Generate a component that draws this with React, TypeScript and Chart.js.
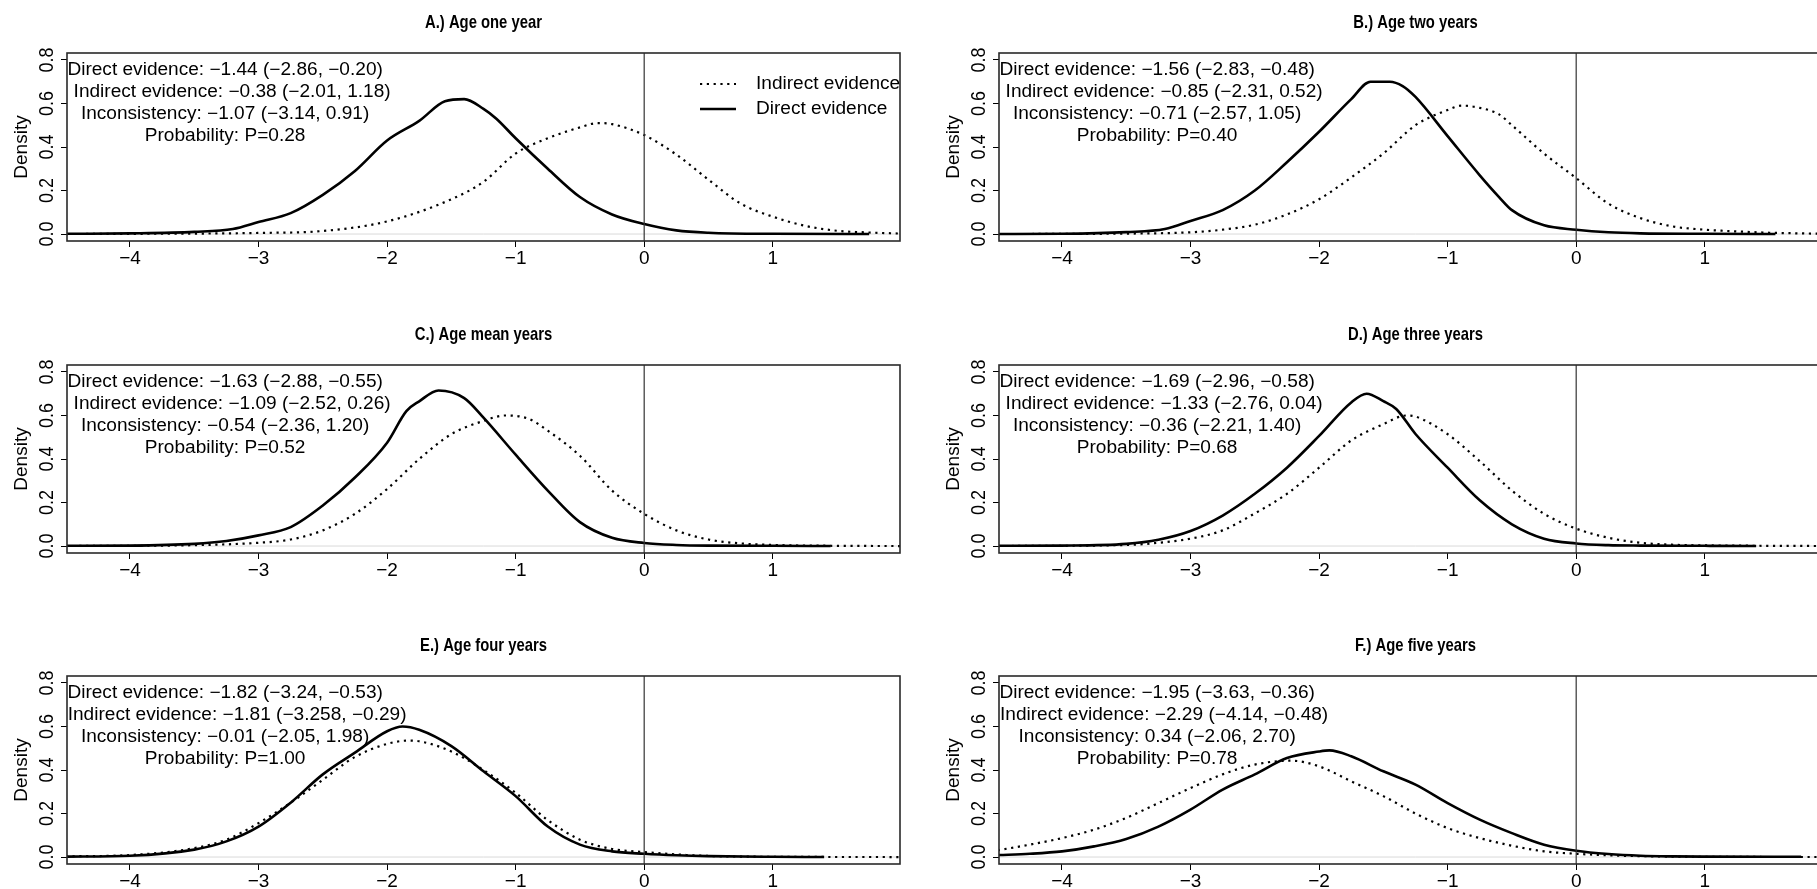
import React, { useEffect, useRef } from "react";
import { Chart, registerables } from "chart.js";

Chart.register(...registerables);

// ---------- axes ----------
const xTickValues = [-4, -3, -2, -1, 0, 1];
const xTickLabels = ["\u22124", "\u22123", "\u22122", "\u22121", "0", "1"];
const yTickValues = [0, 0.2, 0.4, 0.6, 0.8];
const yTickLabels = ["0.0", "0.2", "0.4", "0.6", "0.8"];
const xMin = -4.49;
const xMax = 1.99;
const yMin = -0.032;
const yMax = 0.832;
const yAxisTitle = "Density";
const legendLabels = ["Indirect evidence", "Direct evidence"];
const noteCenterX = -3.26;

// ---------- titles & notes ----------
const panelTitles = [
  "A.) Age one year",
  "B.) Age two years",
  "C.) Age mean years",
  "D.) Age three years",
  "E.) Age four years",
  "F.) Age five years",
];

const notesA = ["Direct evidence: \u22121.44 (\u22122.86, \u22120.20)", "Indirect evidence: \u22120.38 (\u22122.01, 1.18)", "Inconsistency: \u22121.07 (\u22123.14, 0.91)", "Probability: P=0.28"];
const notesB = ["Direct evidence: \u22121.56 (\u22122.83, \u22120.48)", "Indirect evidence: \u22120.85 (\u22122.31, 0.52)", "Inconsistency: \u22120.71 (\u22122.57, 1.05)", "Probability: P=0.40"];
const notesC = ["Direct evidence: \u22121.63 (\u22122.88, \u22120.55)", "Indirect evidence: \u22121.09 (\u22122.52, 0.26)", "Inconsistency: \u22120.54 (\u22122.36, 1.20)", "Probability: P=0.52"];
const notesD = ["Direct evidence: \u22121.69 (\u22122.96, \u22120.58)", "Indirect evidence: \u22121.33 (\u22122.76, 0.04)", "Inconsistency: \u22120.36 (\u22122.21, 1.40)", "Probability: P=0.68"];
const notesE = ["Direct evidence: \u22121.82 (\u22123.24, \u22120.53)", "Indirect evidence: \u22121.81 (\u22123.258, \u22120.29)", "Inconsistency: \u22120.01 (\u22122.05, 1.98)", "Probability: P=1.00"];
const notesF = ["Direct evidence: \u22121.95 (\u22123.63, \u22120.36)", "Indirect evidence: \u22122.29 (\u22124.14, \u22120.48)", "Inconsistency: 0.34 (\u22122.06, 2.70)", "Probability: P=0.78"];

// ---------- density curves ----------
const aDirectX = [-4.5, -4, -3.5, -3.2, -3, -2.75, -2.5, -2.25, -2, -1.75, -1.55, -1.4, -1.25, -1.15, -1, -0.75, -0.5, -0.25, 0, 0.25, 0.5, 1, 1.75];
const aDirectY = [0.001, 0.003, 0.01, 0.023, 0.055, 0.096, 0.18, 0.29, 0.43, 0.52, 0.61, 0.62, 0.575, 0.53, 0.44, 0.3, 0.17, 0.09, 0.046, 0.017, 0.006, 0.001, 0];
const aIndirectX = [-4.5, -4, -3.5, -3, -2.5, -2, -1.5, -1.25, -1, -0.75, -0.5, -0.36, -0.25, 0, 0.25, 0.5, 0.75, 1, 1.25, 1.5, 1.75, 2];
const aIndirectY = [0, 0.001, 0.002, 0.005, 0.014, 0.058, 0.16, 0.24, 0.37, 0.44, 0.49, 0.51, 0.505, 0.455, 0.365, 0.25, 0.14, 0.08, 0.038, 0.015, 0.007, 0.002];

const bDirectX = [-4.5, -4, -3.5, -3.2, -3, -2.75, -2.5, -2.25, -2, -1.75, -1.6, -1.45, -1.35, -1.25, -1, -0.75, -0.6, -0.5, -0.25, 0, 0.25, 0.5, 1, 1.55];
const bDirectY = [0, 0.001, 0.009, 0.023, 0.06, 0.11, 0.2, 0.33, 0.47, 0.62, 0.7, 0.7, 0.68, 0.63, 0.45, 0.27, 0.17, 0.11, 0.04, 0.02, 0.008, 0.003, 0.001, 0];
const bIndirectX = [-4.5, -3.5, -3, -2.75, -2.5, -2.25, -2, -1.75, -1.5, -1.25, -1, -0.89, -0.75, -0.6, -0.5, -0.25, 0, 0.25, 0.5, 0.75, 1, 1.25, 1.5, 1.75, 2];
const bIndirectY = [0, 0.002, 0.008, 0.02, 0.043, 0.09, 0.16, 0.26, 0.37, 0.5, 0.57, 0.59, 0.58, 0.55, 0.5, 0.37, 0.257, 0.14, 0.073, 0.035, 0.02, 0.012, 0.006, 0.003, 0.001];

const cDirectX = [-4.5, -4, -3.5, -3.25, -3, -2.75, -2.5, -2.25, -2, -1.85, -1.75, -1.6, -1.4, -1.25, -1, -0.75, -0.5, -0.25, 0, 0.25, 0.5, 1, 1.45];
const cDirectY = [0.001, 0.002, 0.01, 0.023, 0.049, 0.087, 0.186, 0.315, 0.475, 0.62, 0.665, 0.715, 0.68, 0.59, 0.42, 0.255, 0.11, 0.038, 0.014, 0.005, 0.002, 0.001, 0];
const cIndirectX = [-4.5, -3.5, -3, -2.75, -2.5, -2.25, -2, -1.75, -1.5, -1.25, -1.08, -0.9, -0.75, -0.5, -0.25, 0, 0.25, 0.5, 0.75, 1, 1.5, 2];
const cIndirectY = [0, 0.004, 0.015, 0.03, 0.072, 0.148, 0.262, 0.4, 0.514, 0.575, 0.6, 0.585, 0.53, 0.415, 0.255, 0.148, 0.072, 0.03, 0.012, 0.005, 0.001, 0];

const dDirectX = [-4.5, -4, -3.5, -3.25, -3, -2.75, -2.5, -2.25, -2, -1.75, -1.63, -1.5, -1.4, -1.25, -1, -0.75, -0.5, -0.25, 0, 0.25, 0.5, 1, 1.4];
const dDirectY = [0.001, 0.002, 0.01, 0.029, 0.069, 0.14, 0.24, 0.36, 0.506, 0.66, 0.7, 0.666, 0.63, 0.515, 0.36, 0.21, 0.1, 0.034, 0.012, 0.004, 0.002, 0.001, 0];
const dIndirectX = [-4.5, -3.5, -3.25, -3, -2.75, -2.5, -2.25, -2, -1.75, -1.5, -1.32, -1.25, -1, -0.75, -0.5, -0.25, 0, 0.25, 0.5, 0.75, 1, 1.5, 2];
const dIndirectY = [0, 0.005, 0.015, 0.034, 0.072, 0.15, 0.24, 0.36, 0.485, 0.56, 0.6, 0.595, 0.514, 0.39, 0.255, 0.148, 0.08, 0.038, 0.015, 0.006, 0.003, 0.001, 0];

const eDirectX = [-4.5, -4, -3.5, -3.25, -3, -2.75, -2.5, -2.25, -2, -1.88, -1.75, -1.5, -1.25, -1, -0.75, -0.5, -0.25, 0, 0.25, 0.5, 1, 1.4];
const eDirectY = [0.002, 0.006, 0.034, 0.072, 0.14, 0.25, 0.38, 0.48, 0.578, 0.6, 0.585, 0.51, 0.394, 0.28, 0.14, 0.057, 0.026, 0.015, 0.008, 0.004, 0.001, 0];
const eIndirectX = [-4.5, -4, -3.5, -3.25, -3, -2.75, -2.5, -2.25, -2, -1.84, -1.75, -1.5, -1.25, -1, -0.75, -0.5, -0.25, 0, 0.25, 0.5, 1, 2];
const eIndirectY = [0.003, 0.009, 0.041, 0.08, 0.156, 0.25, 0.355, 0.46, 0.52, 0.535, 0.532, 0.485, 0.4, 0.295, 0.17, 0.08, 0.037, 0.023, 0.012, 0.005, 0.001, 0];

const fDirectX = [-4.5, -4.25, -4, -3.75, -3.5, -3.25, -3, -2.75, -2.5, -2.25, -2, -1.92, -1.75, -1.5, -1.25, -1, -0.75, -0.5, -0.25, 0, 0.25, 0.5, 0.75, 1, 1.75];
const fDirectY = [0.009, 0.015, 0.026, 0.049, 0.083, 0.14, 0.218, 0.31, 0.38, 0.455, 0.485, 0.49, 0.463, 0.394, 0.333, 0.248, 0.172, 0.11, 0.057, 0.029, 0.014, 0.006, 0.003, 0.002, 0.001];
const fIndirectX = [-4.5, -4.25, -4, -3.75, -3.5, -3.25, -3, -2.75, -2.5, -2.22, -2, -1.75, -1.5, -1.25, -1, -0.75, -0.5, -0.25, 0, 0.25, 0.5, 1, 2];
const fIndirectY = [0.031, 0.057, 0.087, 0.126, 0.18, 0.248, 0.317, 0.38, 0.425, 0.443, 0.417, 0.348, 0.28, 0.2, 0.133, 0.087, 0.052, 0.026, 0.015, 0.008, 0.004, 0.001, 0];

// second note line sits a little right of the common centre (px)
const panels = [
  { title: panelTitles[0], notes: notesA, line2Shift: 7, dx: aDirectX, dy: aDirectY, ix: aIndirectX, iy: aIndirectY, legend: true },
  { title: panelTitles[1], notes: notesB, line2Shift: 7, dx: bDirectX, dy: bDirectY, ix: bIndirectX, iy: bIndirectY, legend: false },
  { title: panelTitles[2], notes: notesC, line2Shift: 7, dx: cDirectX, dy: cDirectY, ix: cIndirectX, iy: cIndirectY, legend: false },
  { title: panelTitles[3], notes: notesD, line2Shift: 7, dx: dDirectX, dy: dDirectY, ix: dIndirectX, iy: dIndirectY, legend: false },
  { title: panelTitles[4], notes: notesE, line2Shift: 12, dx: eDirectX, dy: eDirectY, ix: eIndirectX, iy: eIndirectY, legend: false },
  { title: panelTitles[5], notes: notesF, line2Shift: 7, dx: fDirectX, dy: fDirectY, ix: fIndirectX, iy: fIndirectY, legend: false },
];

// ---------- layout ----------
const FONT = "'Liberation Sans', Arial, Helvetica, sans-serif";
const Y_AXIS_W = 67;
const TOP_PAD = 53;
const PLOT_W = 833;
const PLOT_H = 188;
const RIGHT_PAD = 12;
const X_AXIS_H = 49;
const CANVAS_W = Y_AXIS_W + PLOT_W + RIGHT_PAD;
const CANVAS_H = TOP_PAD + PLOT_H + X_AXIS_H;
const colLeft = [0, 932];
const rowTop = [0, 312, 623];

type PanelDef = (typeof panels)[number];

function stretchedText(ctx: any, text: string, x: number, y: number, font: string, sx: number) {
  ctx.save();
  ctx.font = font;
  ctx.translate(x, y);
  ctx.scale(sx, 1);
  ctx.fillText(text, 0, 0);
  ctx.restore();
}

function Panel({ def, left, top }: { def: PanelDef; left: number; top: number }) {
  const ref = useRef<HTMLCanvasElement | null>(null);

  useEffect(() => {
    const canvas = ref.current;
    if (!canvas) return;

    const decor = {
      id: "decor",
      beforeDatasetsDraw(chart: any) {
        const { ctx, chartArea: a, scales } = chart;
        const ys = scales.y;
        ctx.save();
        ctx.strokeStyle = "#d9d9d9";
        ctx.lineWidth = 1;
        const y0 = ys.getPixelForValue(0);
        ctx.beginPath();
        ctx.moveTo(a.left, y0);
        ctx.lineTo(a.right, y0);
        ctx.stroke();
        ctx.restore();
      },
      afterDatasetsDraw(chart: any) {
        const { ctx, chartArea: a, scales } = chart;
        const xs = scales.x;
        const ys = scales.y;
        ctx.save();
        // vertical reference line at 0
        const x0 = xs.getPixelForValue(0);
        ctx.strokeStyle = "#333";
        ctx.lineWidth = 1.2;
        ctx.beginPath();
        ctx.moveTo(x0, a.top);
        ctx.lineTo(x0, a.bottom);
        ctx.stroke();

        // box
        ctx.strokeStyle = "#2a2a2a";
        ctx.lineWidth = 1.6;
        ctx.strokeRect(a.left, a.top, a.right - a.left, a.bottom - a.top);

        // y tick labels (rotated, as in R)
        ctx.fillStyle = "#000";
        ctx.font = `18px ${FONT}`;
        ctx.textAlign = "center";
        ctx.textBaseline = "middle";
        yTickValues.forEach((v, i) => {
          const py = ys.getPixelForValue(v);
          ctx.save();
          ctx.translate(a.left - 19, py);
          ctx.rotate(-Math.PI / 2);
          ctx.scale(1, 1.1);
          ctx.fillText(yTickLabels[i], 0, 0);
          ctx.restore();
        });

        // title (condensed bold)
        stretchedText(ctx, def.title, (a.left + a.right) / 2, a.top - 30, `bold 19px ${FONT}`, 0.78);

        // notes
        const nx = xs.getPixelForValue(noteCenterX);
        def.notes.forEach((t, i) => {
          const shift = i === 1 ? def.line2Shift : 0;
          stretchedText(ctx, t, nx + shift, a.top + 17.5 + i * 21.8, `17.5px ${FONT}`, 1.09);
        });

        // legend
        if (def.legend) {
          const sx0 = a.right - 200;
          const sx1 = a.right - 164;
          const tx = a.right - 144;
          const ly = [a.top + 31, a.top + 56];
          ctx.textAlign = "left";
          ctx.strokeStyle = "#000";
          ctx.lineCap = "butt";
          ctx.setLineDash([2.2, 4.6]);
          ctx.lineWidth = 2.2;
          ctx.beginPath();
          ctx.moveTo(sx0, ly[0]);
          ctx.lineTo(sx1, ly[0]);
          ctx.stroke();
          ctx.setLineDash([]);
          ctx.lineWidth = 2.6;
          ctx.beginPath();
          ctx.moveTo(sx0, ly[1]);
          ctx.lineTo(sx1, ly[1]);
          ctx.stroke();
          stretchedText(ctx, legendLabels[0], tx, ly[0], `17.5px ${FONT}`, 1.09);
          stretchedText(ctx, legendLabels[1], tx, ly[1], `17.5px ${FONT}`, 1.09);
        }
        ctx.restore();
      },
    };

    const chart = new Chart(canvas, {
      type: "line",
      data: {
        datasets: [
          {
            label: legendLabels[1],
            data: def.dx.map((x, i) => ({ x, y: def.dy[i] })),
            borderColor: "#000",
            borderWidth: 2.6,
            pointRadius: 0,
            fill: false,
            cubicInterpolationMode: "monotone",
          },
          {
            label: legendLabels[0],
            data: def.ix.map((x, i) => ({ x, y: def.iy[i] })),
            borderColor: "#000",
            borderWidth: 2.2,
            borderDash: [2.2, 4.6],
            borderCapStyle: "butt",
            pointRadius: 0,
            fill: false,
            cubicInterpolationMode: "monotone",
          },
        ],
      },
      options: {
        responsive: false,
        animation: false,
        devicePixelRatio: 1,
        events: [],
        layout: { padding: { left: 0, top: TOP_PAD, right: RIGHT_PAD, bottom: 0 } },
        plugins: {
          legend: { display: false },
          tooltip: { enabled: false },
          title: { display: false },
        },
        scales: {
          x: {
            type: "linear",
            min: xMin,
            max: xMax,
            afterBuildTicks: (s: any) => {
              s.ticks = xTickValues.map((v) => ({ value: v }));
            },
            afterFit: (s: any) => {
              s.height = X_AXIS_H;
            },
            ticks: {
              autoSkip: false,
              maxRotation: 0,
              minRotation: 0,
              padding: 0,
              color: "#000",
              font: { family: FONT, size: 19 },
              callback: (v: any) => {
                const i = xTickValues.indexOf(Number(v));
                return i >= 0 ? xTickLabels[i] : "";
              },
            },
            grid: { drawOnChartArea: false, drawTicks: true, tickLength: 6, color: "#000", lineWidth: 1 },
            border: { display: false },
          },
          y: {
            type: "linear",
            min: yMin,
            max: yMax,
            afterBuildTicks: (s: any) => {
              s.ticks = yTickValues.map((v) => ({ value: v }));
            },
            afterFit: (s: any) => {
              s.width = Y_AXIS_W;
            },
            ticks: { display: false },
            grid: { drawOnChartArea: false, drawTicks: true, tickLength: 6, color: "#000", lineWidth: 1 },
            border: { display: false },
            title: {
              display: true,
              text: yAxisTitle,
              color: "#000",
              font: { family: FONT, size: 19 },
              padding: { top: 10, bottom: 0 },
            },
          },
        },
      } as any,
      plugins: [decor],
    });

    return () => chart.destroy();
  }, [def]);

  return (
    <canvas
      ref={ref}
      width={CANVAS_W}
      height={CANVAS_H}
      style={{ position: "absolute", left, top, width: CANVAS_W, height: CANVAS_H }}
    />
  );
}

export default function App() {
  return (
    <div
      style={{
        position: "fixed",
        left: 0,
        top: 0,
        width: 1817,
        height: 889,
        overflow: "hidden",
        background: "#fff",
      }}
    >
      {panels.map((p, i) => (
        <Panel key={i} def={p} left={colLeft[i % 2]} top={rowTop[Math.floor(i / 2)]} />
      ))}
    </div>
  );
}
